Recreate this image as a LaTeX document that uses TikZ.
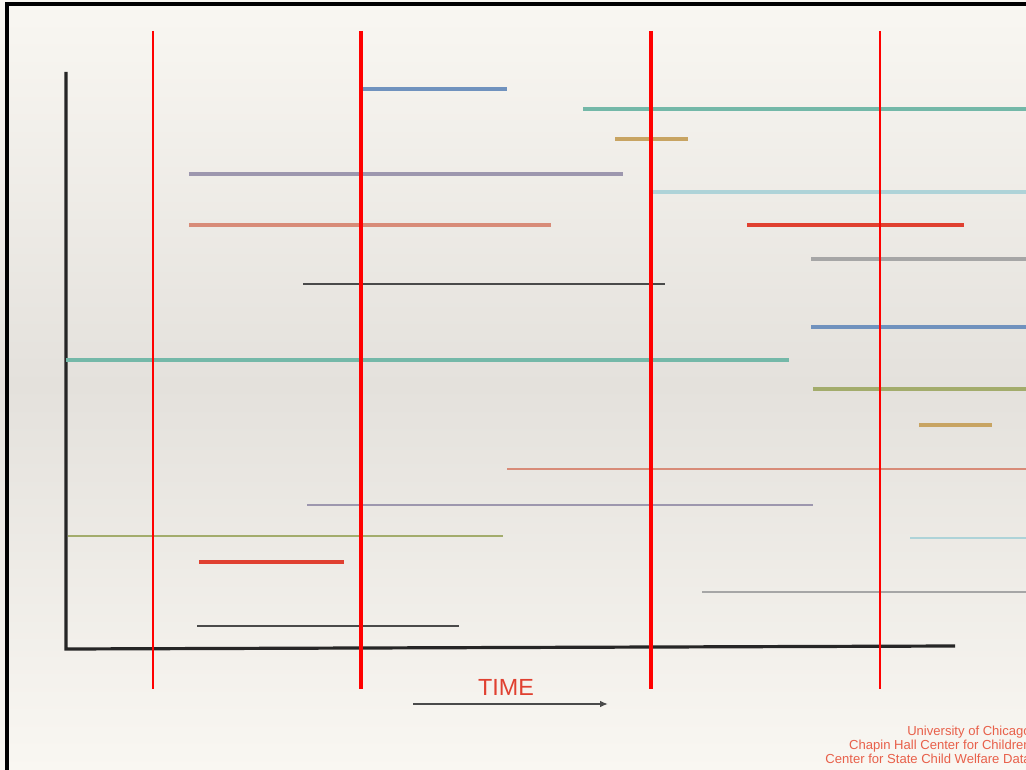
\documentclass[tikz,border=0pt]{standalone}
\usepackage{fontspec}
\setmainfont{Liberation Sans}
\usetikzlibrary{arrows.meta}

\definecolor{bgtop}{HTML}{F9F7F2}
\definecolor{bgmid}{HTML}{E4E1DC}
\definecolor{bgbot}{HTML}{F9F7F2}
\definecolor{segblue}{HTML}{7092BE}
\definecolor{segteal}{HTML}{74B8A8}
\definecolor{segtan}{HTML}{C8A462}
\definecolor{segpurple}{HTML}{9D97AE}
\definecolor{seglight}{HTML}{AED3D8}
\definecolor{segsalmon}{HTML}{D88B78}
\definecolor{segred}{HTML}{E04030}
\definecolor{seggrey}{HTML}{A6A6A6}
\definecolor{segdark}{HTML}{4A4A4A}
\definecolor{segolive}{HTML}{A3AC6C}
\definecolor{footred}{HTML}{E8604A}

\begin{document}
\begin{tikzpicture}[
    x=0.75pt, y=-0.75pt,
    axis/.style={draw=black!85, line width=2.4pt},
    cutline/.style={draw=red, line width=#1},
    cutline/.default=2.6pt,
    spell/.style={line width=2.6pt},
    thinspell/.style={line width=1.8pt},
    footer/.style={font=\fontsize{9.8}{11}\selectfont, text=footred, anchor=base east, inner sep=0pt},
]

% page and background
\useasboundingbox (0,0) rectangle (1026,770);
\shade[top color=bgtop, bottom color=bgbot, middle color=bgmid] (0,0) rectangle (1026,770);
\draw[line width=2.4pt, black] (7,772) -- (7,4) -- (1030,4);

% axes
\draw[axis] (66,72) -- (66,649) -- (955,646);

% spells (upper part)
\draw[spell, segblue]   (362,89)  -- (507,89);
\draw[spell, segteal]   (583,109) -- (1030,109);
\draw[spell, segtan]    (615,139) -- (688,139);
\draw[spell, segpurple] (189,174) -- (623,174);
\draw[spell, seglight]  (652,192) -- (1030,192);
\draw[spell, segsalmon] (189,225) -- (551,225);
\draw[spell, segred]    (747,225) -- (964,225);
\draw[spell, seggrey]   (811,259) -- (1030,259);
\draw[thinspell, segdark] (303,284) -- (665,284);
\draw[spell, segblue]   (811,327) -- (1030,327);
\draw[spell, segteal]   (66,360)  -- (789,360);
\draw[spell, segolive]  (813,389) -- (1030,389);
\draw[spell, segtan]    (919,425) -- (992,425);

% spells (lower part)
\draw[thinspell, segsalmon] (507,469) -- (1030,469);
\draw[thinspell, segpurple] (307,505) -- (813,505);
\draw[thinspell, segolive]  (68,536)  -- (503,536);
\draw[thinspell, seglight]  (910,538) -- (1030,538);
\draw[spell, segred]        (199,562) -- (344,562);
\draw[thinspell, seggrey]   (702,592) -- (1030,592);
\draw[thinspell, segdark]   (197,626) -- (459,626);

% observation windows
\draw[cutline=1.9pt] (153,31) -- (153,689);
\draw[cutline]       (361,31) -- (361,689);
\draw[cutline]       (651,31) -- (651,689);
\draw[cutline=1.9pt] (880,31) -- (880,689);

% time arrow
\node[font=\fontsize{17.5}{20}\selectfont, text=segred] (timelbl) at (506,687) {TIME};
\coordinate (tstart) at (413,704);
\coordinate (tend) at (608,704);
\draw[line width=1.5pt, segdark, -{Latex[length=6pt, width=5pt]}] (tstart) -- (tend);

% footer
\node[footer] (uchi)   at (1031,735) {University of Chicago};
\node[footer] (chapin) at (1031,749) {Chapin Hall Center for Children};
\node[footer] (cscwd)  at (1031,763) {Center for State Child Welfare Data};

\end{tikzpicture}
\end{document}
